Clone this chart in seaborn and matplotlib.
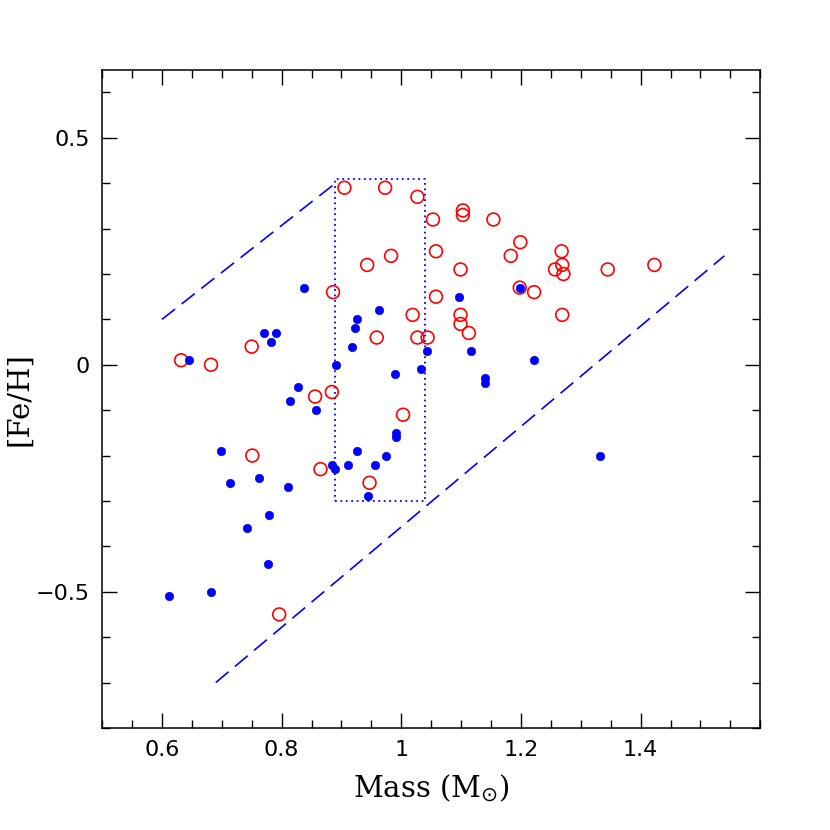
import numpy as np
import pandas as pd
import matplotlib
matplotlib.use("Agg")
import matplotlib.pyplot as plt
import seaborn as sns
from matplotlib.ticker import MultipleLocator, FixedLocator

# filled blue points
blue_mass = [0.645, 0.770, 0.790, 0.783, 0.837, 0.891, 0.828, 0.814, 0.857, 0.917,
             1.198, 1.097, 0.962, 0.926, 0.923, 1.043, 1.117, 1.221, 0.989, 1.033,
             1.140, 1.140, 0.698, 0.713, 0.763, 0.811, 0.884, 0.889, 0.911, 0.779,
             0.742, 0.778, 0.682, 0.612, 0.991, 0.991, 0.926, 0.974, 0.956, 0.945,
             1.332]
blue_feh = [0.01, 0.07, 0.07, 0.05, 0.17, 0.00, -0.05, -0.08, -0.10, 0.04,
            0.17, 0.15, 0.12, 0.10, 0.08, 0.03, 0.03, 0.01, -0.02, -0.01,
            -0.03, -0.04, -0.19, -0.26, -0.25, -0.27, -0.22, -0.23, -0.22, -0.33,
            -0.36, -0.44, -0.50, -0.51, -0.15, -0.16, -0.19, -0.20, -0.22, -0.29,
            -0.20]

# open red circles
red_mass = [0.632, 0.682, 0.750, 0.886, 0.905, 0.856, 0.884, 0.973, 1.027, 1.053,
            1.103, 1.103, 1.154, 1.199, 1.183, 1.268, 1.269, 1.257, 1.271, 1.058,
            0.983, 0.943, 1.099, 1.198, 1.222, 1.058, 1.269, 1.019, 0.959, 1.099,
            1.099, 1.113, 1.027, 1.044, 1.345, 1.423, 0.751, 0.865, 0.796, 1.003,
            0.947]
red_feh = [0.01, 0.00, 0.04, 0.16, 0.39, -0.07, -0.06, 0.39, 0.37, 0.32,
           0.34, 0.33, 0.32, 0.27, 0.24, 0.25, 0.22, 0.21, 0.20, 0.25,
           0.24, 0.22, 0.21, 0.17, 0.16, 0.15, 0.11, 0.11, 0.06, 0.11,
           0.09, 0.07, 0.06, 0.06, 0.21, 0.22, -0.20, -0.23, -0.55, -0.11,
           -0.26]

# dashed boundary lines and dotted selection box
upper_x = [0.60, 0.89]
upper_y = [0.10, 0.40]
lower_x = [0.69, 1.54]
lower_y = [-0.70, 0.24]
box_x = [0.89, 1.04, 1.04, 0.89, 0.89]
box_y = [-0.30, -0.30, 0.41, 0.41, -0.30]

x_ticks = [0.6, 0.8, 1.0, 1.2, 1.4]
y_ticks = [-0.5, 0.0, 0.5]

sns.set_style("ticks")
plt.rcParams['font.family'] = ['DejaVu Sans']

df_blue = pd.DataFrame({'mass': blue_mass, 'feh': blue_feh})
df_red = pd.DataFrame({'mass': red_mass, 'feh': red_feh})

fig = plt.figure(figsize=(8.3, 8.3), dpi=100)
ax = fig.add_axes([0.123, 0.123, 0.793, 0.793])

sns.scatterplot(data=df_red, x='mass', y='feh', ax=ax, s=85, facecolor='none',
                edgecolor='red', linewidth=1.2, zorder=3)
sns.scatterplot(data=df_blue, x='mass', y='feh', ax=ax, s=36, color='blue',
                edgecolor='blue', linewidth=0.5, zorder=4)

ax.plot(upper_x, upper_y, color='blue', linestyle=(0, (10, 5)), linewidth=1.2)
ax.plot(lower_x, lower_y, color='blue', linestyle=(0, (10, 5)), linewidth=1.2)
ax.plot(box_x, box_y, color='blue', linestyle=(0, (1, 2)), linewidth=1.3)

ax.set_xlim(0.5, 1.6)
ax.set_ylim(-0.8, 0.65)
ax.xaxis.set_major_locator(FixedLocator(x_ticks))
ax.xaxis.set_minor_locator(MultipleLocator(0.05))
ax.yaxis.set_major_locator(FixedLocator(y_ticks))
ax.yaxis.set_minor_locator(MultipleLocator(0.1))
fmt = plt.FuncFormatter(lambda v, p: ('%g' % v).replace('-', '\u2212'))
ax.xaxis.set_major_formatter(fmt)
ax.yaxis.set_major_formatter(fmt)

ax.tick_params(which='both', direction='in', top=True, right=True, color='black',
               width=1.0, labelcolor='black')
ax.tick_params(which='major', length=11, labelsize=16, pad=9)
ax.tick_params(which='minor', length=5.5)
for sp in ax.spines.values():
    sp.set_visible(True)
    sp.set_linewidth(1.1)
    sp.set_color('black')

ax.set_xlabel(r'Mass (M$_{\odot}$)', fontsize=21, family='DejaVu Serif', color='black')
ax.set_ylabel('[Fe/H]', fontsize=21, family='DejaVu Serif', color='black')
ax.xaxis.set_label_coords(0.5, -0.067)
ax.yaxis.set_label_coords(-0.105, 0.5)

fig.savefig('out.png', dpi=100)
